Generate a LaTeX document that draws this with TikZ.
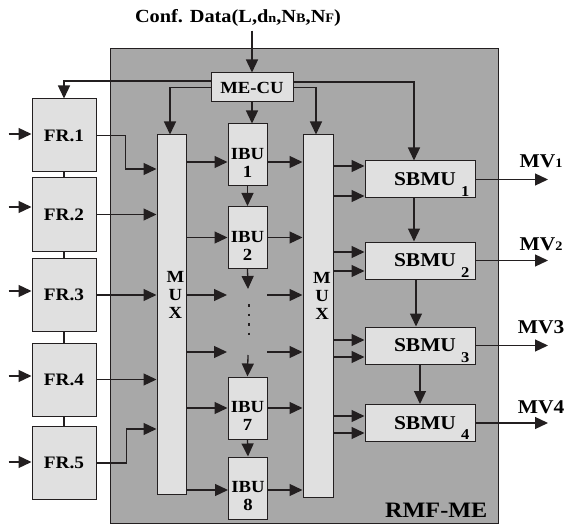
\documentclass[tikz,border=0pt]{standalone}
\usepackage{fontspec}
\setmainfont[FakeStretch=1.1]{Liberation Serif}
\usetikzlibrary{arrows.meta,positioning}
\definecolor{megray}{RGB}{168,168,168}
\definecolor{boxgray}{RGB}{224,224,224}
\definecolor{inkline}{RGB}{35,31,32}
\newcommand{\smtxt}[1]{{\fontsize{13}{13}\selectfont #1}}

\begin{document}
\begin{tikzpicture}[x=1pt,y=-1pt]
  \tikzstyle{blk}=[draw=inkline,line width=1pt,fill=boxgray,inner sep=0pt,
    font=\fontsize{17.5}{20}\selectfont\bfseries]
  \tikzstyle{frbox}=[blk,minimum width=64pt,minimum height=73pt]
  \tikzstyle{ibubox}=[blk,minimum width=39pt,minimum height=62pt]
  \tikzstyle{sbbox}=[blk,minimum width=110pt,minimum height=37pt,font=\fontsize{19.5}{22}\selectfont\bfseries]
  \tikzstyle{ibutxt}=[anchor=center,align=center,yshift=-8pt,font=\fontsize{17}{18}\selectfont\bfseries]
  \tikzstyle{subtxt}=[anchor=south east,xshift=-5pt,yshift=1pt,inner sep=1pt,font=\fontsize{15}{15}\selectfont\bfseries]
  \tikzstyle{muxtxt}=[anchor=center,align=center,xshift=4pt,yshift=20pt,font=\fontsize{17}{18}\selectfont\bfseries]
  \tikzstyle{mvtxt}=[font=\fontsize{19.5}{22}\selectfont\bfseries,inner sep=0pt]
  \tikzstyle{arr}=[-{Triangle[length=13pt,width=12pt]},draw=inkline,line width=1.3pt]
  \tikzstyle{wire}=[draw=inkline,line width=1.3pt]
  \useasboundingbox (0,0) rectangle (568,524);
  % outer engine block
  \node[blk,fill=megray,minimum width=388pt,minimum height=474pt] (rmf) at (304,286) {};
  \node[anchor=south east,inner sep=0pt,font=\fontsize{22}{24}\selectfont\bfseries] (rmflbl)
    at ([xshift=-11pt,yshift=6pt]rmf.south east) {RMF-ME};
  % configuration input and control unit
  \node[inner sep=0pt,font=\fontsize{18.5}{20}\selectfont\bfseries] (conf) at (238,18)
    {Conf. Data(L,d\smtxt{n},N\smtxt{B},N\smtxt{F})};
  \node[blk,minimum width=82pt,minimum height=29pt,font=\fontsize{17}{18}\selectfont\bfseries] (mecu) at (252,87.5) {ME-CU};
  % frame buffers on the left
  \node[frbox] (fr1) at (64,135.5) {FR.1};
  \node[frbox] (fr2) at (64,214.5) {FR.2};
  \node[frbox] (fr3) at (64,295) {FR.3};
  \node[frbox] (fr4) at (64,379.5) {FR.4};
  \node[frbox] (fr5) at (64,463) {FR.5};
  % multiplexers
  \node[blk,minimum width=29pt,minimum height=359pt,label={[muxtxt]center:M\\U\\X}] (mux1) at (171.5,314.5) {};
  \node[blk,minimum width=30pt,minimum height=362pt,label={[muxtxt]center:M\\U\\X}] (mux2) at (318,316) {};
  % input buffer units
  \node[ibubox,label={[ibutxt]center:IBU\\1}] (ibu1) at (247.5,155) {};
  \node[ibubox,label={[ibutxt]center:IBU\\2}] (ibu2) at (247.5,237.5) {};
  \node[ibubox,label={[ibutxt]center:IBU\\7}] (ibu7) at (247.5,408) {};
  \node[ibubox,label={[ibutxt]center:IBU\\8}] (ibu8) at (248,488) {};
  % search units on the right
  \node[sbbox,label={[subtxt]south east:1}] (sb1) at (420,179.5) {\hspace*{10pt}SBMU};
  \node[sbbox,label={[subtxt]south east:2}] (sb2) at (420,260.5) {\hspace*{10pt}SBMU};
  \node[sbbox,label={[subtxt]south east:3}] (sb3) at (420,345.5) {\hspace*{10pt}SBMU};
  \node[sbbox,label={[subtxt]south east:4}] (sb4) at (420,423) {\hspace*{10pt}SBMU};
  % outputs
  \node[mvtxt] (mv1) at (541,161) {MV\smtxt{1}};
  \node[mvtxt] (mv2) at (541,244) {MV\smtxt{2}};
  \node[mvtxt] (mv3) at (541,327) {MV3};
  \node[mvtxt] (mv4) at (541,407) {MV4};
  % free ends
  \coordinate (dot1in) at (227,295);
  \coordinate (dot2in) at (227,352);
  \coordinate (dot1out) at (267,295);
  \coordinate (dot2out) at (267,352);
  \coordinate (ibugap1) at (248,289);
  \coordinate (ibugap2) at (248,355);

  % configuration data into ME-CU
  \draw[arr] (conf.south -| mecu.north) ++(0,4) -- (mecu.north);
  % control lines from ME-CU
  \draw[arr] ([yshift=6.5pt]mecu.west) -| (fr1.north);
  \draw[arr] (mecu.west) -| ([xshift=-1.5pt]mux1.north);
  \draw[arr] (mecu.south) -- (mecu.south |- ibu1.north);
  \draw[arr] ([yshift=5.5pt]mecu.east) -| ([xshift=-6pt]sb1.north);
  \draw[arr] (mecu.east) -| ([xshift=-2pt]mux2.north);
  % chain between frame buffers
  \draw[wire] (fr1.south) -- (fr2.north);
  \draw[wire] (fr2.south) -- (fr3.north);
  \draw[wire] (fr3.south) -- (fr4.north);
  \draw[wire] (fr4.south) -- (fr5.north);
  % frame inputs
  \draw[arr] ([xshift=-23pt,yshift=1.5pt]fr1.west) -- ([yshift=1.5pt]fr1.west);
  \draw[arr] ([xshift=-23pt,yshift=7.5pt]fr2.west) -- ([yshift=7.5pt]fr2.west);
  \draw[arr] ([xshift=-23pt,yshift=4pt]fr3.west) -- ([yshift=4pt]fr3.west);
  \draw[arr] ([xshift=-23pt,yshift=3.5pt]fr4.west) -- ([yshift=3.5pt]fr4.west);
  \draw[arr] ([xshift=-23pt,yshift=1pt]fr5.west) -- ([yshift=1pt]fr5.west);
  % frames into first MUX
  \draw[arr] (fr1.east) -- ++(29,0) |- (mux1.west |- 0,169);
  \draw[arr] (fr2.east) -- (mux1.west |- fr2.east);
  \draw[arr] (fr3.east) -- (mux1.west |- fr3.east);
  \draw[arr] (fr4.east) -- (mux1.west |- fr4.east);
  \draw[arr] (fr5.east) -- ++(30,0) |- (mux1.west |- 0,429);
  % first MUX into buffers
  \draw[arr] (mux1.east |- 0,162) -- (ibu1.west |- 0,162);
  \draw[arr] (mux1.east |- ibu2.west) -- (ibu2.west);
  \draw[arr] (mux1.east |- dot1in) -- (dot1in);
  \draw[arr] (mux1.east |- dot2in) -- (dot2in);
  \draw[arr] (mux1.east |- ibu7.west) -- (ibu7.west);
  \draw[arr] (mux1.east |- 0,490) -- (ibu8.west |- 0,490);
  % buffer chain
  \draw[arr] (ibu1.south) -- (ibu2.north);
  \draw[arr] (ibu2.south) -- (ibugap1);
  \draw[inkline,line width=1.6pt,dash pattern=on 2.5pt off 7pt] (249,304) -- (249,336);
  \draw[arr] (ibugap2) -- (ibu7.north);
  \draw[arr] (ibu7.south) -- (ibu8.north);
  % buffers into second MUX
  \draw[arr] (ibu1.east |- 0,162) -- (mux2.west |- 0,162);
  \draw[arr] (ibu2.east) -- (mux2.west |- ibu2.east);
  \draw[arr] (dot1out) -- (mux2.west |- dot1out);
  \draw[arr] (dot2out) -- (mux2.west |- dot2out);
  \draw[arr] (ibu7.east) -- (mux2.west |- ibu7.east);
  \draw[arr] (ibu8.east |- 0,490) -- (mux2.west |- 0,490);
  % second MUX into search units
  \draw[arr] (mux2.east |- 0,166) -- (sb1.west |- 0,166);
  \draw[arr] (mux2.east |- 0,196) -- (sb1.west |- 0,196);
  \draw[arr] (mux2.east |- 0,252) -- (sb2.west |- 0,252);
  \draw[arr] (mux2.east |- 0,271) -- (sb2.west |- 0,271);
  \draw[arr] (mux2.east |- 0,340) -- (sb3.west |- 0,340);
  \draw[arr] (mux2.east |- 0,357) -- (sb3.west |- 0,357);
  \draw[arr] (mux2.east |- 0,416) -- (sb4.west |- 0,416);
  \draw[arr] (mux2.east |- 0,433) -- (sb4.west |- 0,433);
  % search unit chain
  \draw[arr] ([xshift=-6pt]sb1.south) -- ([xshift=-6pt]sb2.north);
  \draw[arr] ([xshift=-4pt]sb2.south) -- ([xshift=-4pt]sb3.north);
  \draw[arr] (sb3.south) -- (sb4.north);
  % motion vector outputs
  \draw[arr] (sb1.east) -- (548,0 |- sb1.east);
  \draw[arr] (sb2.east) -- (548,0 |- sb2.east);
  \draw[arr] (sb3.east) -- (548,0 |- sb3.east);
  \draw[arr] (sb4.east) -- (548,0 |- sb4.east);
\end{tikzpicture}
\end{document}
